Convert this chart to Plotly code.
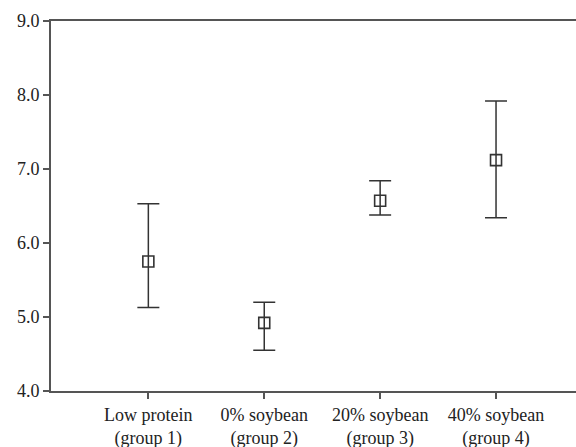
import plotly.graph_objects as go

categories = ["Low protein<br>(group 1)", "0% soybean<br>(group 2)",
              "20% soybean<br>(group 3)", "40% soybean<br>(group 4)"]
means = [5.75, 4.92, 6.57, 7.12]
upper = [6.53, 5.20, 6.84, 7.92]
lower = [5.13, 4.55, 6.38, 6.34]
y_ticks = [4.0, 5.0, 6.0, 7.0, 8.0, 9.0]

err_plus = [u - m for u, m in zip(upper, means)]
err_minus = [m - l for m, l in zip(means, lower)]

ink = "#333333"
fig = go.Figure(go.Scatter(
    x=list(range(len(categories))), y=means, mode="markers",
    marker=dict(symbol="square-open", size=11, color=ink, line=dict(width=1.6, color=ink)),
    error_y=dict(type="data", symmetric=False, array=err_plus, arrayminus=err_minus,
                 color=ink, thickness=1.5, width=11),
    showlegend=False,
))

font = dict(family="Liberation Serif, Times New Roman, serif", size=18, color="#222222")
fig.update_layout(
    width=576, height=447,
    margin=dict(l=51, r=0, t=21, b=56, autoexpand=False),
    plot_bgcolor="white", paper_bgcolor="white",
    font=font,
)
fig.update_xaxes(
    range=[-0.84, 3.69], tickmode="array", tickvals=list(range(len(categories))),
    ticktext=categories, showgrid=False, zeroline=False, automargin=False,
    showline=True, linecolor="#555555", linewidth=1.8, mirror=True,
    ticks="outside", ticklen=6, tickwidth=1.5, tickcolor="#555555",
    ticklabelstandoff=0,
)
fig.update_yaxes(
    range=[4.0, 9.0], tickmode="array", tickvals=y_ticks,
    ticktext=[f"{v:.1f}" for v in y_ticks], showgrid=False, zeroline=False, automargin=False,
    showline=True, linecolor="#555555", linewidth=1.8,
    ticks="outside", ticklen=6, tickwidth=1.5, tickcolor="#555555",
)
fig.write_html("out.html", config={"displayModeBar": False},
               post_script="document.body.style.margin='0';")
